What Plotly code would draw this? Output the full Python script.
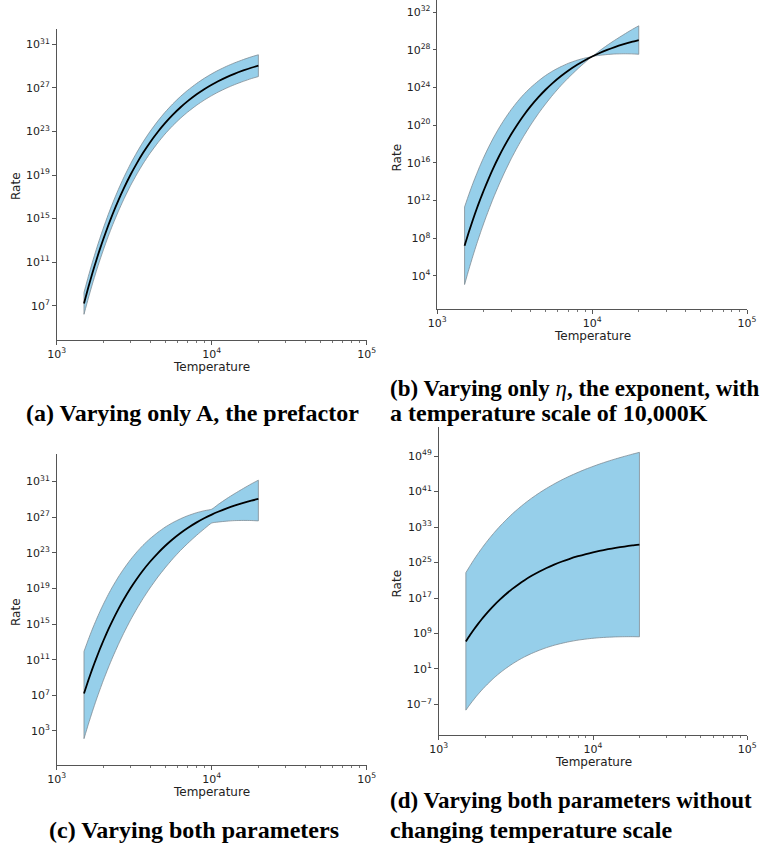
import plotly.graph_objects as go

# Temperature samples (K)
temperature = [1500, 1600, 1700, 1800, 1900, 2000, 2150, 2300, 2500, 2700, 3000,
               3300, 3600, 4000, 4500, 5000, 5600, 6300, 7000, 8000, 9000, 10000,
               11000, 12500, 14000, 16000, 18000, 20000]

# log10(rate) of the nominal (central) curve
center_log = [7.21, 8.69, 10.00, 11.16, 12.20, 13.13, 14.37, 15.45, 16.68, 17.73, 19.05,
              20.12, 21.02, 22.00, 22.98, 23.77, 24.53, 25.23, 25.79, 26.42, 26.91, 27.30,
              27.62, 28.00, 28.30, 28.61, 28.86, 29.05]

# (a) varying only A
a_upper_log = [8.21, 9.69, 11.00, 12.16, 13.20, 14.13, 15.37, 16.45, 17.68, 18.73, 20.05,
               21.12, 22.02, 23.00, 23.98, 24.77, 25.53, 26.23, 26.79, 27.42, 27.91, 28.30,
               28.62, 29.00, 29.30, 29.61, 29.86, 30.05]
a_lower_log = [6.21, 7.69, 9.00, 10.16, 11.20, 12.13, 13.37, 14.45, 15.68, 16.73, 18.05,
               19.12, 20.02, 21.00, 21.98, 22.77, 23.53, 24.23, 24.79, 25.42, 25.91, 26.30,
               26.62, 27.00, 27.30, 27.61, 27.86, 28.05]

# (b) varying only eta, temperature scale 10,000 K
b_upper_log = [11.33, 12.67, 13.85, 14.88, 15.81, 16.63, 17.71, 18.64, 19.69, 20.57, 21.66,
               22.53, 23.24, 23.99, 24.71, 25.28, 25.79, 26.23, 26.57, 26.91, 27.14, 27.30,
               27.83, 28.49, 29.03, 29.63, 30.14, 30.56]
b_lower_log = [3.09, 4.71, 6.15, 7.44, 8.59, 9.64, 11.03, 12.26, 13.67, 14.89, 16.44,
               17.71, 18.80, 20.01, 21.25, 22.26, 23.27, 24.23, 25.01, 25.93, 26.68, 27.30,
               27.41, 27.51, 27.57, 27.59, 27.58, 27.54]

# (c) varying both parameters
c_upper_log = [11.93, 13.27, 14.45, 15.48, 16.41, 17.23, 18.31, 19.24, 20.29, 21.17, 22.26,
               23.13, 23.84, 24.59, 25.31, 25.88, 26.39, 26.83, 27.17, 27.51, 27.74, 27.90,
               28.43, 29.09, 29.63, 30.23, 30.74, 31.16]
c_lower_log = [2.14, 3.76, 5.20, 6.49, 7.64, 8.69, 10.08, 11.31, 12.72, 13.94, 15.49,
               16.76, 17.85, 19.06, 20.30, 21.31, 22.32, 23.28, 24.06, 24.98, 25.73, 26.35,
               26.46, 26.56, 26.62, 26.64, 26.63, 26.59]

# (d) varying both parameters without changing temperature scale
d_upper_log = [22.71, 24.32, 25.76, 27.03, 28.18, 29.22, 30.61, 31.82, 33.22, 34.43, 35.97,
               37.23, 38.31, 39.51, 40.73, 41.73, 42.72, 43.67, 44.44, 45.34, 46.08, 46.68,
               47.20, 47.84, 48.37, 48.95, 49.44, 49.85]
d_lower_log = [-8.29, -6.94, -5.76, -4.71, -3.78, -2.96, -1.87, -0.92, 0.14, 1.03, 2.13,
               3.01, 3.73, 4.49, 5.23, 5.81, 6.34, 6.79, 7.14, 7.50, 7.74, 7.92,
               8.04, 8.16, 8.23, 8.27, 8.28, 8.25]

# y tick exponents per panel
a_ticks = [7, 11, 15, 19, 23, 27, 31]
b_ticks = [4, 8, 12, 16, 20, 24, 28, 32]
c_ticks = [3, 7, 11, 15, 19, 23, 27, 31]
d_ticks = [-7, 1, 9, 17, 25, 33, 41, 49]
x_ticks = [3, 4, 5]

captions = {
    "a": ["<b>(a) Varying only A, the prefactor</b>"],
    "b": ["<b>(b) Varying only <span style=\"font-weight:normal\"><i>η</i></span>, the exponent, with</b>",
          "<b>a temperature scale of 10,000K</b>"],
    "c": ["<b>(c) Varying both parameters</b>"],
    "d": ["<b>(d) Varying both parameters without</b>",
          "<b>changing temperature scale</b>"],
}

W, H = 764, 847
FILL = "#96cfea"
EDGE = "#7f8c94"
AX = "#555555"
TXT = "#222222"
TICKFONT = dict(family="DejaVu Sans", size=11, color=TXT)


def pw(v):
    return [10.0 ** e for e in v]


def sup(e):
    s = str(e).replace("-", "\u2212")
    return "10<sup>" + s + "</sup>"


# panel geometry (pixels): x-left, x-right, y-top, y-bottom, yrange
panels = [
    dict(key="a", up=a_upper_log, lo=a_lower_log, ticks=a_ticks,
         px=(56.7, 366.7), py=(29.2, 340.0), yr=(3.85, 32.4),
         temp_y=367, rate_x=16, rate_y=186),
    dict(key="b", up=b_upper_log, lo=b_lower_log, ticks=b_ticks,
         px=(437.3, 747.0), py=(0.0, 309.3), yr=(0.46, 33.3),
         temp_y=336.3, rate_x=396.5, rate_y=157),
    dict(key="c", up=c_upper_log, lo=c_lower_log, ticks=c_ticks,
         px=(56.7, 366.7), py=(454.0, 765.0), yr=(-0.82, 34.1),
         temp_y=792, rate_x=16, rate_y=612),
    dict(key="d", up=d_upper_log, lo=d_lower_log, ticks=d_ticks,
         px=(438.7, 747.3), py=(427.3, 735.0), yr=(-13.9, 55.5),
         temp_y=762, rate_x=396.5, rate_y=583),
]

minor_x = [float(k * 10 ** p) for p in (3, 4) for k in range(2, 10)]

fig = go.Figure()
layout = dict(width=W, height=H, autosize=False,
              margin=dict(l=0, r=0, t=0, b=0, pad=0, autoexpand=False),
              paper_bgcolor="white", plot_bgcolor="white",
              showlegend=False, annotations=[])

for i, p in enumerate(panels, start=1):
    xa = "x" if i == 1 else f"x{i}"
    ya = "y" if i == 1 else f"y{i}"
    up = pw(p["up"])
    lo = pw(p["lo"])
    edge = dict(color=EDGE, width=0.8, shape="spline", smoothing=0.6)
    fig.add_trace(go.Scatter(x=temperature, y=lo, mode="lines", line=edge,
                             xaxis=xa, yaxis=ya, hoverinfo="skip"))
    fig.add_trace(go.Scatter(x=temperature, y=up, mode="lines", line=edge,
                             fill="tonexty", fillcolor=FILL,
                             xaxis=xa, yaxis=ya, hoverinfo="skip"))
    # vertical end caps of the band
    for k in (0, -1):
        fig.add_trace(go.Scatter(x=[temperature[k], temperature[k]], y=[lo[k], up[k]],
                                 mode="lines", line=dict(color=EDGE, width=0.8),
                                 xaxis=xa, yaxis=ya, hoverinfo="skip"))
    fig.add_trace(go.Scatter(x=temperature, y=pw(center_log), mode="lines",
                             line=dict(color="black", width=1.8, shape="spline",
                                       smoothing=0.6),
                             xaxis=xa, yaxis=ya))

    xdom = [p["px"][0] / W, p["px"][1] / W]
    ydom = [1 - p["py"][1] / H, 1 - p["py"][0] / H]
    xname = "xaxis" if i == 1 else f"xaxis{i}"
    yname = "yaxis" if i == 1 else f"yaxis{i}"
    layout[xname] = dict(
        type="log", range=[3, 5], domain=xdom, anchor=ya, automargin=False,
        tickvals=[10.0 ** e for e in x_ticks], ticktext=[sup(e) for e in x_ticks],
        ticks="outside", ticklen=3.5, tickwidth=1, tickcolor=AX,
        showline=True, linecolor=AX, linewidth=1.2,
        showgrid=False, zeroline=False, tickfont=TICKFONT,
        minor=dict(tickmode="array", tickvals=minor_x, ticks="outside",
                   ticklen=2, tickwidth=0.8, tickcolor="#777777", showgrid=False),
    )
    layout[yname] = dict(
        type="log", range=list(p["yr"]), domain=ydom, anchor=xa, automargin=False,
        tickvals=[10.0 ** e for e in p["ticks"]], ticktext=[sup(e) for e in p["ticks"]],
        ticks="outside", ticklen=3.5, tickwidth=1, tickcolor=AX,
        showline=True, linecolor=AX, linewidth=1.2,
        showgrid=False, zeroline=False, tickfont=TICKFONT,
    )
    cx = (p["px"][0] + p["px"][1]) / 2
    layout["annotations"].append(dict(
        text="Temperature", x=cx / W, y=1 - p["temp_y"] / H, xref="paper", yref="paper",
        xanchor="center", yanchor="middle", showarrow=False,
        font=dict(family="DejaVu Sans", size=12, color=TXT)))
    layout["annotations"].append(dict(
        text="Rate", x=p["rate_x"] / W, y=1 - p["rate_y"] / H, xref="paper", yref="paper",
        xanchor="center", yanchor="middle", showarrow=False, textangle=-90,
        font=dict(family="DejaVu Sans", size=12, color=TXT)))

CAPFONT = dict(family="Liberation Serif", size=24, color="black")
CAPFONT2 = dict(family="Liberation Serif", size=23, color="black")
cap_specs = [
    (captions["a"][0], 193, 413, "center", CAPFONT),
    (captions["b"][0], 388, 388, "left", CAPFONT2),
    (captions["b"][1], 388, 413, "left", CAPFONT),
    (captions["c"][0], 193.5, 830, "center", CAPFONT),
    (captions["d"][0], 388, 800, "left", CAPFONT2),
    (captions["d"][1], 388, 830, "left", CAPFONT),
]
for txt, x, y, anc, f in cap_specs:
    layout["annotations"].append(dict(
        text=txt, x=x / W, y=1 - y / H, xref="paper", yref="paper",
        xanchor=anc, yanchor="middle", showarrow=False, font=f))

fig.update_layout(**layout)
fig.write_html("out.html", config={"responsive": False, "displayModeBar": False},
               post_script="document.body.style.margin='0px';")
